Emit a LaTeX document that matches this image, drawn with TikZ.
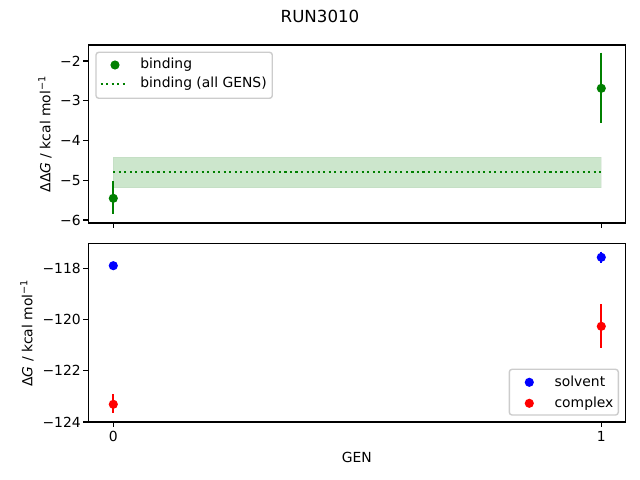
\documentclass[tikz,border=0pt]{standalone}
\usepackage{fontspec}
\setmainfont{DejaVu Sans}
\definecolor{mplgreen}{RGB}{0,128,0}
\definecolor{mplblue}{RGB}{0,0,255}
\definecolor{mplred}{RGB}{255,0,0}
\definecolor{bandgreen}{RGB}{204,230,204}
\definecolor{frameg}{RGB}{204,204,204}
\begin{document}
\begin{tikzpicture}[x=0.72pt,y=-0.72pt,
  axframe/.style={draw=black,line width=0.8pt},
  tick/.style={draw=black,line width=0.8pt},
  ticklab/.style={font=\fontsize{10}{12}\selectfont,inner sep=0pt},
  axlab/.style={font=\fontsize{10}{12}\selectfont,inner sep=0pt},
  pt/.style={circle,inner sep=0pt,minimum size=6.6pt},
  ebar/.style={line width=1.5pt},
  legbox/.style={draw=frameg,fill=white,fill opacity=0.8,line width=1pt,rounded corners=2pt},
  legtext/.style={font=\fontsize{10}{12}\selectfont,inner sep=0pt,anchor=mid west}]
\useasboundingbox (0,0) rectangle (640,480);
\fill[white] (0,0) rectangle (640,480);
% title
\node[font=\fontsize{12}{14}\selectfont,inner sep=0pt] (title) at (320,16) {RUN3010};
% ---------- top axes ----------
\coordinate (tTL) at (88.3,45);
\coordinate (tBR) at (625.3,223);
% band
\fill[bandgreen,draw=bandgreen!90!black,line width=0.6pt,draw opacity=0.3] (113.3,157) rectangle (601.3,187.7);
\draw[mplgreen,line width=1.5pt,dash pattern=on 1.5pt off 2.475pt] (113.3,172) -- (601.3,172);
% binding points
\node[pt,fill=mplgreen] (b0) at (113.3,198.3) {};
\coordinate (b0t) at (113.3,181); \coordinate (b0b) at (113.3,214.3);
\draw[ebar,mplgreen] (b0t) -- (b0b);
\node[pt,fill=mplgreen] (b1) at (601.3,88.3) {};
\coordinate (b1t) at (601.3,52.7); \coordinate (b1b) at (601.3,122.7);
\draw[ebar,mplgreen] (b1t) -- (b1b);
\draw[axframe] (tTL) rectangle (tBR);
% y ticks
\foreach \v/\y in {2/61,3/100.75,4/140.5,5/180.25,6/220}{
  \draw[tick] (88.3,\y) -- (83.4,\y);
  \node[ticklab,anchor=east] (ty\v) at (81,\y) {−\v};
}
\draw[tick] (113.3,223) -- (113.3,227.9);
\draw[tick] (601.3,223) -- (601.3,227.9);
\node[axlab,rotate=90] (tylab) at (45,134) {ΔΔ\textit{G} / kcal mol\textsuperscript{−1}};
% legend top
\draw[legbox] (96,52.3) rectangle (272.3,98.3);
\node[pt,fill=mplgreen] (lb) at (115,65) {};
\node[legtext] (lbt) at (140,65) {binding};
\coordinate (ld1) at (100.7,83.7); \coordinate (ld2) at (127,83.7);
\draw[mplgreen,line width=1.5pt,dash pattern=on 1.5pt off 2.475pt] (ld1) -- (ld2);
\node[legtext] (ldt) at (140,83.7) {binding (all GENS)};
% ---------- bottom axes ----------
\coordinate (bTL) at (88.3,243.3);
\coordinate (bBR) at (625.3,422);
\node[pt,fill=mplblue] (s0) at (113.3,265.7) {};
\draw[ebar,mplblue] (113.3,261.6) -- (113.3,269.8);
\node[pt,fill=mplred] (c0) at (113.3,404.3) {};
\draw[ebar,mplred] (113.3,394) -- (113.3,413.3);
\node[pt,fill=mplblue] (s1) at (601.3,257.3) {};
\draw[ebar,mplblue] (601.3,251.7) -- (601.3,262.9);
\node[pt,fill=mplred] (c1) at (601.3,326.3) {};
\draw[ebar,mplred] (601.3,304) -- (601.3,347.7);
\draw[axframe] (bTL) rectangle (bBR);
\foreach \v/\y in {118/268.4,120/319.6,122/370.8,124/422}{
  \draw[tick] (88.3,\y) -- (83.4,\y);
  \node[ticklab,anchor=east] (by\v) at (81,\y) {−\v};
}
\draw[tick] (113.3,422) -- (113.3,426.9);
\draw[tick] (601.3,422) -- (601.3,426.9);
\node[ticklab,anchor=north] (bx0) at (113.3,431) {0};
\node[ticklab,anchor=north] (bx1) at (601.3,431) {1};
\node[axlab] (bxlab) at (356.8,457) {GEN};
\node[axlab,rotate=90] (bylab) at (27,333) {Δ\textit{G} / kcal mol\textsuperscript{−1}};
% legend bottom
\draw[legbox] (509.3,369.3) rectangle (618.3,415);
\node[pt,fill=mplblue] (ls) at (529.3,382.3) {};
\node[legtext] (lst) at (554.3,382.3) {solvent};
\node[pt,fill=mplred] (lc) at (529.3,403.3) {};
\node[legtext] (lct) at (554.3,403.3) {complex};
\end{tikzpicture}
\end{document}
